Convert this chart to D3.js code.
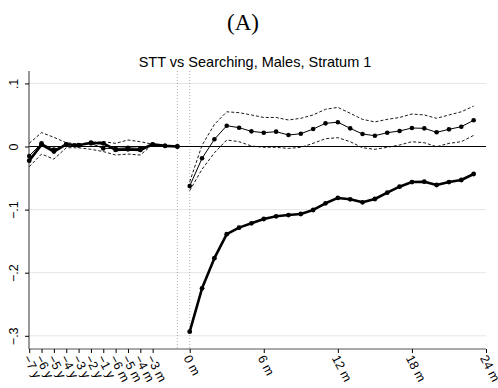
<!DOCTYPE html>
<html><head><meta charset="utf-8">
<script src="https://cdn.jsdelivr.net/npm/d3@7"></script>
<style>body{margin:0;background:#fff}</style>
</head><body>
<svg id="c" width="498" height="388"></svg>
<script>
const xTicks = [-13,-12,-11,-10,-9,-8,-7,-6,-5,-4,-3,0,6,12,18,24];
const xTickLabels = ["−7 y","−6 y","−5 y","−4 y","−3 y","−2 y","−1 y","−6 m","−5 m","−4 m","−3 m","0 m","6 m","12 m","18 m","24 m"];
const yTicks = [0.1,0,-0.1,-0.2,-0.3];
const yTickLabels = [".1","0","−.1","−.2","−.3"];
const preX = [-13,-12,-11,-10,-9,-8,-7,-6,-5,-4,-3,-2,-1];
const postX = [0,1,2,3,4,5,6,7,8,9,10,11,12,13,14,15,16,17,18,19,20,21,22,23];
const thickPre = [-0.0225,0.003,-0.008,0.0035,0.002,0.006,0.005,-0.0055,-0.0045,-0.0055,0.0035,0.001,0];
const thinPre = [-0.015,0.005,-0.005,0.003,0.002,0.005,-0.003,-0.003,-0.002,-0.003,0.003,0.001,0];
const thinPreHi = [0.005,0.022,0.0146,0.006,0.004,0.006,0.0076,0.005,0.0103,0.0076,0.0035,0.001,0];
const thinPreLo = [-0.032,-0.012,-0.020,-0.002,-0.002,-0.0045,-0.008,-0.0135,-0.012,-0.0135,0.003,0.001,0];
const thickPost = [-0.2935,-0.2247,-0.177,-0.139,-0.1286,-0.1217,-0.1149,-0.1106,-0.1086,-0.107,-0.1006,-0.090,-0.0815,-0.0837,-0.0884,-0.0832,-0.0732,-0.0637,-0.0563,-0.0558,-0.061,-0.0563,-0.0531,-0.0436];
const thinPost = [-0.0626,-0.0187,0.0114,0.033,0.0298,0.024,0.0219,0.0235,0.0182,0.0203,0.0277,0.0367,0.0385,0.0288,0.0198,0.0171,0.0219,0.0246,0.0293,0.0288,0.0225,0.0272,0.0314,0.0415];
const thinPostHi = [-0.056,0.002,0.035,0.055,0.0536,0.050,0.046,0.046,0.042,0.0447,0.050,0.059,0.062,0.0526,0.043,0.039,0.043,0.046,0.0515,0.050,0.0447,0.050,0.055,0.064];
const thinPostLo = [-0.070,-0.036,-0.010,0.0103,0.0076,0.0008,-0.0013,-0.0013,-0.003,-0.0013,0.005,0.0124,0.014,0.0076,-0.002,-0.0045,-0.0013,0.0024,0.0076,0.006,-0.0003,0.005,0.0076,0.0177];
const refLines = [-1,0];

const svg = d3.select("#c");
const L = 29, R = 486, T = 71, B = 349;
const x = d3.scaleLinear().domain([-13,24]).range([189.7-13*12.346, 189.7+24*12.346]);
const y = d3.scaleLinear().domain([0,-0.3]).range([146.5, 335.8]);

svg.append("text").attr("x",243).attr("y",30).attr("text-anchor","middle")
  .attr("font-family","'Liberation Serif','DejaVu Serif',serif").attr("font-size",23).text("(A)");
svg.append("text").attr("x",255).attr("y",67).attr("text-anchor","middle")
  .attr("font-family","'Liberation Sans',Arial,sans-serif").attr("font-size",14.5).text("STT vs Searching, Males, Stratum 1");

// gridlines
svg.append("g").selectAll("line").data(yTicks.filter(d=>d!==0)).join("line")
  .attr("x1",L).attr("x2",R).attr("y1",d=>y(d)).attr("y2",d=>y(d))
  .attr("stroke","#e6e6e6").attr("stroke-width",1);
// reference lines
svg.append("g").selectAll("line").data(refLines).join("line")
  .attr("x1",d=>x(d)).attr("x2",d=>x(d)).attr("y1",T).attr("y2",B)
  .attr("stroke","#999").attr("stroke-width",0.8).attr("stroke-dasharray","1,2");
svg.append("line").attr("x1",L).attr("x2",R).attr("y1",y(0)).attr("y2",y(0)).attr("stroke","#000").attr("stroke-width",1.1);

// axes
const yAxis = d3.axisLeft(y).tickValues(yTicks).tickSize(4).tickFormat((d,i)=>yTickLabels[i]);
const gy = svg.append("g").attr("transform",`translate(${L},0)`).call(yAxis);
gy.select(".domain").attr("d",`M0,${T}V${B}`).attr("stroke","#555").attr("stroke-width",1.2);
gy.selectAll(".tick line").attr("stroke","#000");
gy.selectAll(".tick text").attr("font-family","'Liberation Sans',Arial,sans-serif").attr("font-size",12.5).attr("fill","#000")
  .attr("text-anchor","middle").attr("x",null).attr("dy",null)
  .attr("transform","translate(-15,0) rotate(-90)").attr("dy","0.35em");

const xAxis = d3.axisBottom(x).tickValues(xTicks).tickSize(4).tickFormat((d,i)=>xTickLabels[i]);
const gx = svg.append("g").attr("transform",`translate(0,${B})`).call(xAxis);
gx.select(".domain").attr("d",`M${L},0H${R}`).attr("stroke","#555").attr("stroke-width",1.2);
gx.selectAll(".tick line").attr("stroke","#000");
gx.selectAll(".tick text").attr("font-family","'Liberation Sans',Arial,sans-serif").attr("font-size",12.5).attr("fill","#000")
  .attr("text-anchor","start").attr("y",null).attr("dy",null)
  .attr("transform","translate(-3,7) rotate(62)").attr("dy","0.35em");

const line = d3.line().x(d=>x(d[0])).y(d=>y(d[1]));
function draw(xs, ys, opts){
  const pts = xs.map((d,i)=>[d,ys[i]]);
  svg.append("path").attr("d",line(pts)).attr("fill","none").attr("stroke","#000")
    .attr("stroke-width",opts.w).attr("stroke-dasharray",opts.dash||null).attr("stroke-linejoin","round");
  if(opts.r) svg.append("g").selectAll("circle").data(pts).join("circle")
    .attr("cx",d=>x(d[0])).attr("cy",d=>y(d[1])).attr("r",opts.r).attr("fill","#000");
}
draw(preX, thinPreHi, {w:0.9, dash:"3,2"});
draw(preX, thinPreLo, {w:0.9, dash:"3,2"});
draw(postX, thinPostHi, {w:0.9, dash:"3,2"});
draw(postX, thinPostLo, {w:0.9, dash:"3,2"});
draw(preX, thickPre, {w:2.6, r:2.4});
draw(postX, thickPost, {w:2.6, r:2.4});
draw(preX, thinPre, {w:1, r:2.3});
draw(postX, thinPost, {w:1, r:2.3});
</script>
</body></html>
